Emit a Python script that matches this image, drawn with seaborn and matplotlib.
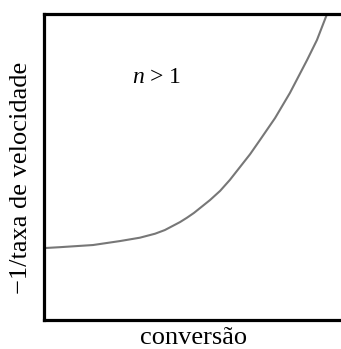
import matplotlib
matplotlib.use("Agg")
import matplotlib.pyplot as plt
import seaborn as sns
import pandas as pd

# Conversion vs. inverse rate curve for reaction order n > 1
conversao = [0.0, 0.054, 0.165, 0.256, 0.323, 0.374, 0.407, 0.458, 0.481,
             0.505, 0.559, 0.593, 0.626, 0.694, 0.727, 0.778, 0.828, 0.886,
             0.919, 0.953]
inv_taxa = [0.235, 0.238, 0.245, 0.258, 0.269, 0.282, 0.294, 0.320, 0.334,
            0.350, 0.392, 0.422, 0.458, 0.542, 0.588, 0.660, 0.742, 0.850,
            0.915, 1.0]

rotulo_x = "conversão"
rotulo_y = "−1/taxa de velocidade"
anotacao = r"$n$ > 1"

sns.set_theme(style="white")
plt.rcParams["font.family"] = ["Liberation Serif", "DejaVu Serif"]
plt.rcParams["mathtext.fontset"] = "custom"
plt.rcParams["mathtext.rm"] = "Liberation Serif"
plt.rcParams["mathtext.it"] = "Liberation Serif:italic"

df = pd.DataFrame({"x": conversao, "y": inv_taxa})

fig = plt.figure(figsize=(3.41, 3.49), dpi=100)
ax = fig.add_axes([44 / 341, 29 / 349, 297 / 341, 306 / 349])

sns.lineplot(data=df, x="x", y="y", ax=ax, color="#777777", linewidth=1.5)
ax.lines[0].set_solid_joinstyle("round")

ax.set_xlim(0, 1)
ax.set_ylim(0, 1)
ax.set_xticks([])
ax.set_yticks([])

for lado in ("left", "bottom", "top"):
    ax.spines[lado].set_visible(True)
    ax.spines[lado].set_color("black")
    ax.spines[lado].set_linewidth(2.3)
ax.spines["right"].set_visible(False)

ax.set_xlabel(rotulo_x, fontsize=19, color="black")
ax.set_ylabel(rotulo_y, fontsize=19, color="black")
ax.xaxis.set_label_coords(0.502, -0.024)
ax.yaxis.set_label_coords(-0.04, 0.464)

ax.text(0.296, 0.775, anotacao, transform=ax.transAxes, fontsize=17,
        ha="left", va="baseline", color="black")

fig.savefig("out.png", dpi=100)
